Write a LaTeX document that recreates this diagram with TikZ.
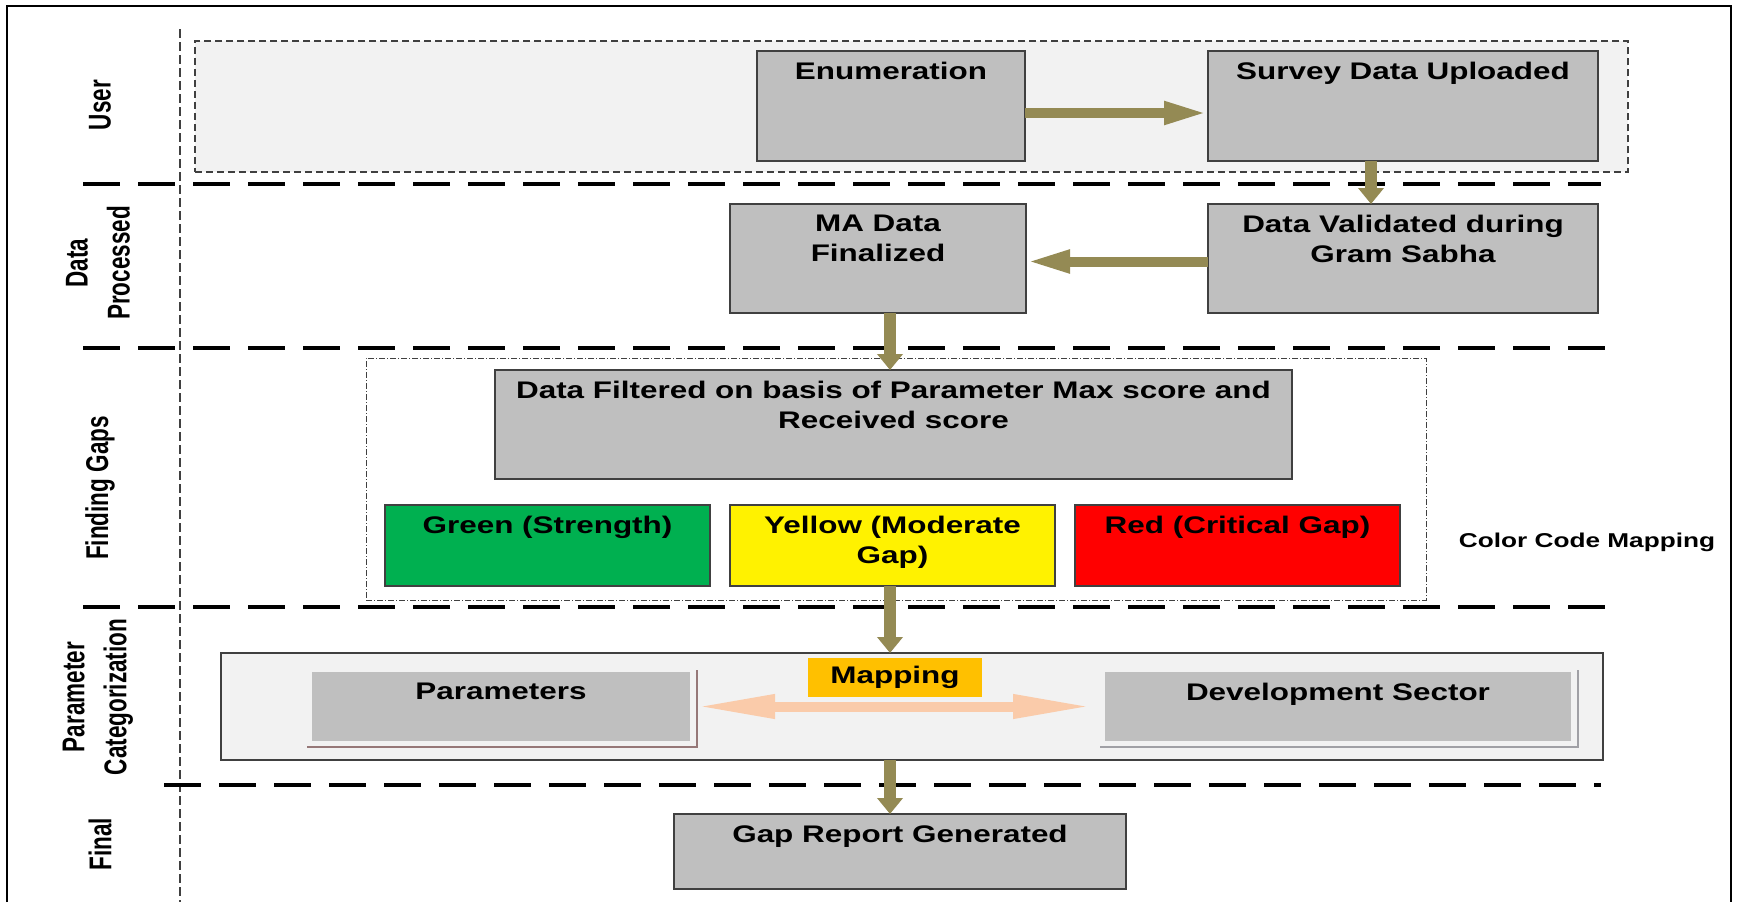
\documentclass[tikz,border=0pt]{standalone}
\usepackage{fontspec}
\setmainfont{Liberation Sans}[FakeStretch=1.31]
\newfontfamily\lanefont{Liberation Sans}[FakeStretch=0.714]
\usetikzlibrary{arrows.meta}
\definecolor{olivearrow}{RGB}{148,138,84}
\definecolor{peach}{RGB}{250,203,170}
\definecolor{boxgray}{RGB}{191,191,191}
\definecolor{panelgray}{RGB}{242,242,242}
\definecolor{edgegray}{RGB}{64,64,64}
\definecolor{codegreen}{RGB}{0,176,80}
\definecolor{mapgold}{RGB}{255,192,0}
\definecolor{shadebrown}{RGB}{150,120,120}
\definecolor{shadegray}{RGB}{160,160,165}

\begin{document}
\begin{tikzpicture}[x=1pt,y=-1pt,
  font=\fontsize{24}{30}\selectfont\bfseries,
  stage/.style={draw=edgegray,line width=1.5pt,fill=boxgray,inner sep=0pt,outer sep=0pt},
  caption/.style={anchor=north,inner sep=11pt,outer sep=0pt,align=center},
  lanetext/.style={rotate=90,align=center,font=\lanefont\fontsize{31.5}{42}\selectfont\bfseries},
  lanesplit/.style={line width=3.5pt,dash pattern=on 37pt off 18pt},
  laneaxis/.style={line width=1.3pt,draw=edgegray,dash pattern=on 9pt off 4pt},
  flow/.style={line width=10pt,draw=olivearrow,-{Triangle[length=44pt,width=21pt]}},
  drop/.style={line width=12pt,draw=olivearrow,-{Triangle[length=16pt,width=25pt]}},
  swap/.style={line width=10pt,draw=peach,{Triangle[length=80pt,width=22pt]}-{Triangle[length=80pt,width=22pt]}}]
\useasboundingbox (0,0) rectangle (1742,902);

% frame and swim lanes
\draw[line width=2.5pt] (7,902) -- (7,6) -- (1731,6) -- (1731,902);
\draw[laneaxis] (180,29) -- (180,902);
\draw[lanesplit] (83,184) -- (1601,184);
\draw[lanesplit] (83,348) -- (1612,348);
\draw[lanesplit] (83,607) -- (1612,607);
\draw[lanesplit] (164,785) -- (1601,785);

\node[lanetext] (userlbl) at (100,105) {User};
\node[lanetext] (datalbl) at (98,263) {Data\\Processed};
\node[lanetext] (gapslbl) at (100,488) {Finding Gaps};
\node[lanetext] (catlbl) at (98,697) {Parameter\\Categorization};
\node[lanetext] (finallbl) at (100,844) {Final};

% panels
\node[draw=edgegray,line width=1.2pt,dash pattern=on 7pt off 4pt,fill=panelgray,
  minimum width=1433pt,minimum height=131pt,inner sep=0pt] (userpanel) at (911.5,106.5) {};
\node[draw=edgegray,line width=1pt,dash pattern=on 6pt off 2pt on 1pt off 2pt,
  minimum width=1060pt,minimum height=242pt,inner sep=0pt] (gappanel) at (896,479) {};
\node[draw=edgegray,line width=1.5pt,fill=panelgray,
  minimum width=1382pt,minimum height=107pt,inner sep=0pt,outer sep=0pt] (cat) at (912,706.5) {};

% steps
\node[stage,minimum width=268pt,minimum height=110pt,label={[caption]north:Enumeration}] (enum) at (891,106) {};
\node[stage,minimum width=390pt,minimum height=110pt,label={[caption]north:Survey Data Uploaded}] (survey) at (1403,106) {};
\node[stage,minimum width=390pt,minimum height=109pt,label={[caption]north:Data Validated during\\Gram Sabha}] (valid) at (1403,258.5) {};
\node[stage,minimum width=296pt,minimum height=109pt,label={[caption]north:MA Data\\Finalized}] (ma) at (878,258.5) {};
\node[stage,minimum width=797pt,minimum height=109pt,label={[caption]north:Data Filtered on basis of Parameter Max score and\\Received score}] (filt) at (893.5,424.5) {};
\node[stage,fill=codegreen,minimum width=325pt,minimum height=81pt,label={[caption]north:Green (Strength)}] (green) at (547.5,545.5) {};
\node[stage,fill=yellow,minimum width=325pt,minimum height=81pt,label={[caption]north:Yellow (Moderate\\Gap)}] (yellow) at (892.5,545.5) {};
\node[stage,fill=red,minimum width=325pt,minimum height=81pt,label={[caption]north:Red (Critical Gap)}] (redbox) at (1237.5,545.5) {};
\node[font=\fontsize{20}{24}\selectfont\bfseries] (codekey) at (1587,542) {Color Code Mapping};

\node[stage,draw=none,minimum width=378pt,minimum height=69pt,label={[caption]north:Parameters}] (params) at (501,706.5) {};
\node[stage,draw=none,minimum width=466pt,minimum height=69pt,label={[caption]north:Development Sector}] (dev) at (1338,706.5) {};
\draw[line width=1.5pt,shadebrown] ([shift={(-5,6)}]params.south west) -| ([shift={(7,-2)}]params.north east);
\draw[line width=1.5pt,shadegray] ([shift={(-5,6)}]dev.south west) -| ([shift={(7,-2)}]dev.north east);
\node[fill=mapgold,minimum width=174pt,minimum height=39pt,inner sep=0pt] (mapping) at (895,677.5) {Mapping};

\node[stage,minimum width=452pt,minimum height=75pt,label={[caption]north:Gap Report Generated}] (gap) at (900,851.5) {};

% connectors
\coordinate (trunk) at (890,0);
\draw[flow] ([yshift=-7pt]enum.east) -- ([yshift=-7pt]survey.west);
\draw[drop] ([xshift=-32pt]survey.south) -- ([xshift=-32pt]valid.north);
\draw[flow] ([yshift=-3pt]valid.west) -- ([yshift=-3pt]ma.east);
\draw[drop] (ma.south -| trunk) -- (filt.north -| trunk);
\draw[drop] (yellow.south -| trunk) -- (cat.north -| trunk);
\draw[drop] (cat.south -| trunk) -- (gap.north -| trunk);
\draw[swap] ([xshift=5pt]params.east) -- ([xshift=-12pt]dev.west);
\end{tikzpicture}
\end{document}
